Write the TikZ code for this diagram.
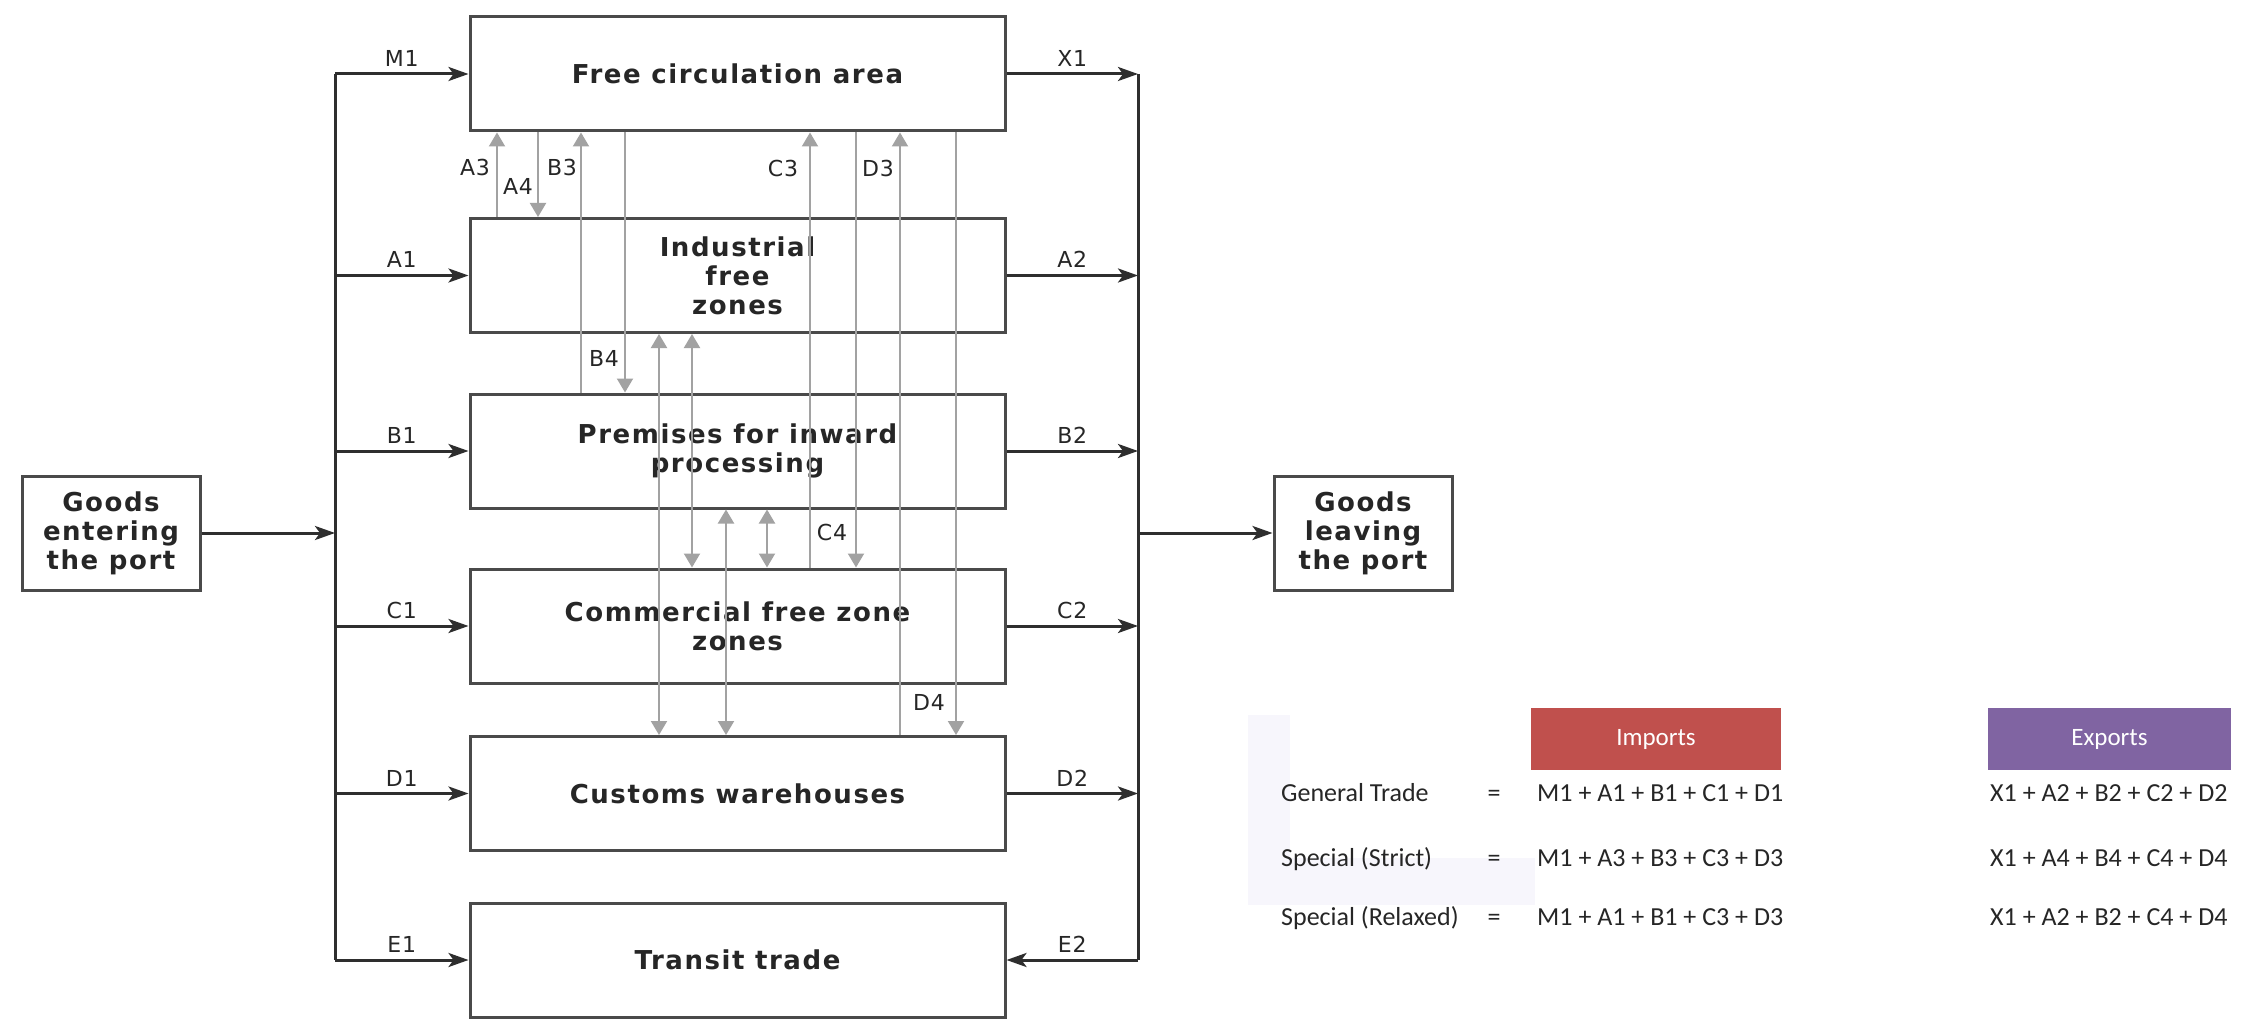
\documentclass[tikz,border=0pt]{standalone}
\usepackage{fontspec}
\setmainfont{DejaVu Sans}
\newfontfamily\boxfont[LetterSpace=6.0]{DejaVu Sans}
\newfontfamily\lblfont[LetterSpace=4.0]{DejaVu Sans}
\newfontfamily\tabfont{Carlito}
\usetikzlibrary{arrows.meta}
\definecolor{boxc}{HTML}{4A4A4A}
\definecolor{blk}{HTML}{2E2E2E}
\definecolor{gr}{HTML}{A2A2A2}
\definecolor{impc}{HTML}{C0504D}
\definecolor{expc}{HTML}{8064A2}
\definecolor{txt}{HTML}{262626}
\definecolor{smudge}{HTML}{F7F6FC}
\tikzset{
  box/.style={draw=boxc, line width=3pt, minimum width=535pt, minimum height=114pt,
    align=center, inner sep=0pt, text=txt,
    font=\boxfont\bfseries\fontsize{26}{29}\selectfont},
  portbox/.style={box, minimum width=178pt, minimum height=114pt},
  bus/.style={draw=blk, line width=3pt},
  arr/.style={bus, -{Stealth[length=20pt,width=14pt,inset=5pt]}},
  gl/.style={draw=gr, line width=2pt},
  gup/.style={gl, -{Triangle[length=14pt,width=16pt]}},
  gdbl/.style={gl, {Triangle[length=14pt,width=16pt]}-{Triangle[length=14pt,width=16pt]}},
  lbl/.style={font=\lblfont\fontsize{22}{22}\selectfont, inner sep=0pt, text=txt},
  tab/.style={font=\tabfont\fontsize{26}{26}\selectfont, inner sep=0pt, text=txt},
  hdr/.style={font=\tabfont\fontsize{25}{25}\selectfont, text=white, inner sep=0pt,
    minimum height=62pt}
}
\begin{document}
\begin{tikzpicture}[x=1pt,y=-1pt]
\useasboundingbox (0,0) rectangle (2241,1024);
\fill[white] (0,0) rectangle (2241,1024);
% faint background smudges near the table
\fill[smudge] (1248,715) rectangle (1290,905);
\fill[smudge] (1290,858) rectangle (1535,905);

% coordinates of buses and vertical flows
\coordinate (lb) at (335,0);
\coordinate (rb) at (1138,0);
\coordinate (xa3) at (497,0);
\coordinate (xa4) at (538,0);
\coordinate (xb3) at (581,0);
\coordinate (xb4) at (625,0);
\coordinate (xq1) at (659,0);
\coordinate (xq2) at (692,0);
\coordinate (xq3) at (726,0);
\coordinate (xq4) at (767,0);
\coordinate (xc3) at (810,0);
\coordinate (xc4) at (856,0);
\coordinate (xd3) at (900,0);
\coordinate (xd4) at (956,0);

% boxes
\node[box] (fc) at (737.5,74) {Free circulation area};
\node[box] (ind) at (737.5,275.5) {Industrial\\free\\zones};
\node[box] (prem) at (737.5,451) {Premises for inward\\processing};
\node[box] (comm) at (737.5,626) {Commercial free zone\\zones};
\node[box] (cust) at (737.5,793.5) {Customs warehouses};
\node[box] (tran) at (737.5,960) {Transit trade};
\node[portbox] (gin) at (111,533) {Goods\\entering\\the port};
\node[portbox] (gout) at (1363,533) {Goods\\leaving\\the port};

% vertical gray flows between the boxes
\draw[gup] (xa3 |- ind.north) -- (xa3 |- fc.south);
\draw[gup] (xa4 |- fc.south) -- (xa4 |- ind.north);
\draw[gup] (xb3 |- prem.north) -- (xb3 |- fc.south);
\draw[gup] (xb4 |- fc.south) -- (xb4 |- prem.north);
\draw[gdbl] (xq1 |- ind.south) -- (xq1 |- cust.north);
\draw[gdbl] (xq2 |- ind.south) -- (xq2 |- comm.north);
\draw[gdbl] (xq3 |- prem.south) -- (xq3 |- cust.north);
\draw[gdbl] (xq4 |- prem.south) -- (xq4 |- comm.north);
\draw[gup] (xc3 |- comm.north) -- (xc3 |- fc.south);
\draw[gup] (xc4 |- fc.south) -- (xc4 |- comm.north);
\draw[gup] (xd3 |- cust.north) -- (xd3 |- fc.south);
\draw[gup] (xd4 |- fc.south) -- (xd4 |- cust.north);

% buses
\draw[bus] (lb |- fc.west) -- (lb |- tran.west);
\draw[bus] (rb |- fc.east) -- (rb |- tran.east);

% entry arrows
\draw[arr] (lb |- fc.west) -- node[lbl,above=6pt]{M1} (fc.west);
\draw[arr] (lb |- ind.west) -- node[lbl,above=6pt]{A1} (ind.west);
\draw[arr] (lb |- prem.west) -- node[lbl,above=6pt]{B1} (prem.west);
\draw[arr] (lb |- comm.west) -- node[lbl,above=6pt]{C1} (comm.west);
\draw[arr] (lb |- cust.west) -- node[lbl,above=6pt]{D1} (cust.west);
\draw[arr] (lb |- tran.west) -- node[lbl,above=6pt]{E1} (tran.west);
% exit arrows
\draw[arr] (fc.east) -- node[lbl,above=6pt]{X1} (rb |- fc.east);
\draw[arr] (ind.east) -- node[lbl,above=6pt]{A2} (rb |- ind.east);
\draw[arr] (prem.east) -- node[lbl,above=6pt]{B2} (rb |- prem.east);
\draw[arr] (comm.east) -- node[lbl,above=6pt]{C2} (rb |- comm.east);
\draw[arr] (cust.east) -- node[lbl,above=6pt]{D2} (rb |- cust.east);
\draw[arr] (rb |- tran.east) -- node[lbl,above=6pt]{E2} (tran.east);
% port arrows
\draw[arr] (gin.east) -- (lb |- gin.east);
\draw[arr] (rb |- gout.west) -- (gout.west);

% labels of vertical flows
\node[lbl] (la3) at (475,167) {A3};
\node[lbl] (la4) at (518,186) {A4};
\node[lbl] (lb3) at (562,167) {B3};
\node[lbl] (lb4) at (604,358) {B4};
\node[lbl] (lc3) at (783,168) {C3};
\node[lbl] (lc4) at (832,532) {C4};
\node[lbl] (ld3) at (878,168) {D3};
\node[lbl] (ld4) at (929,702) {D4};

% table
\node[hdr, fill=impc, minimum width=250pt] (imp) at (1656,739) {Imports};
\node[hdr, fill=expc, minimum width=243pt] (exp) at (2109.5,739) {Exports};

\node[tab, anchor=base west] (r1) at (1281,801) {General Trade};
\node[tab, anchor=base west] (r2) at (1281,866) {Special (Strict)};
\node[tab, anchor=base west] (r3) at (1281,925) {Special (Relaxed)};
\node[tab, anchor=base] (e1) at (1494,801) {=};
\node[tab, anchor=base] (e2) at (1494,866) {=};
\node[tab, anchor=base] (e3) at (1494,925) {=};
\node[tab, anchor=base west] (i1) at (1537,801) {M1 + A1 + B1 + C1 + D1};
\node[tab, anchor=base west] (i2) at (1537,866) {M1 + A3 + B3 + C3 + D3};
\node[tab, anchor=base west] (i3) at (1537,925) {M1 + A1 + B1 + C3 + D3};
\node[tab, anchor=base west] (x1) at (1990,801) {X1 + A2 + B2 + C2 + D2};
\node[tab, anchor=base west] (x2) at (1990,866) {X1 + A4 + B4 + C4 + D4};
\node[tab, anchor=base west] (x3) at (1990,925) {X1 + A2 + B2 + C4 + D4};
\end{tikzpicture}
\end{document}
